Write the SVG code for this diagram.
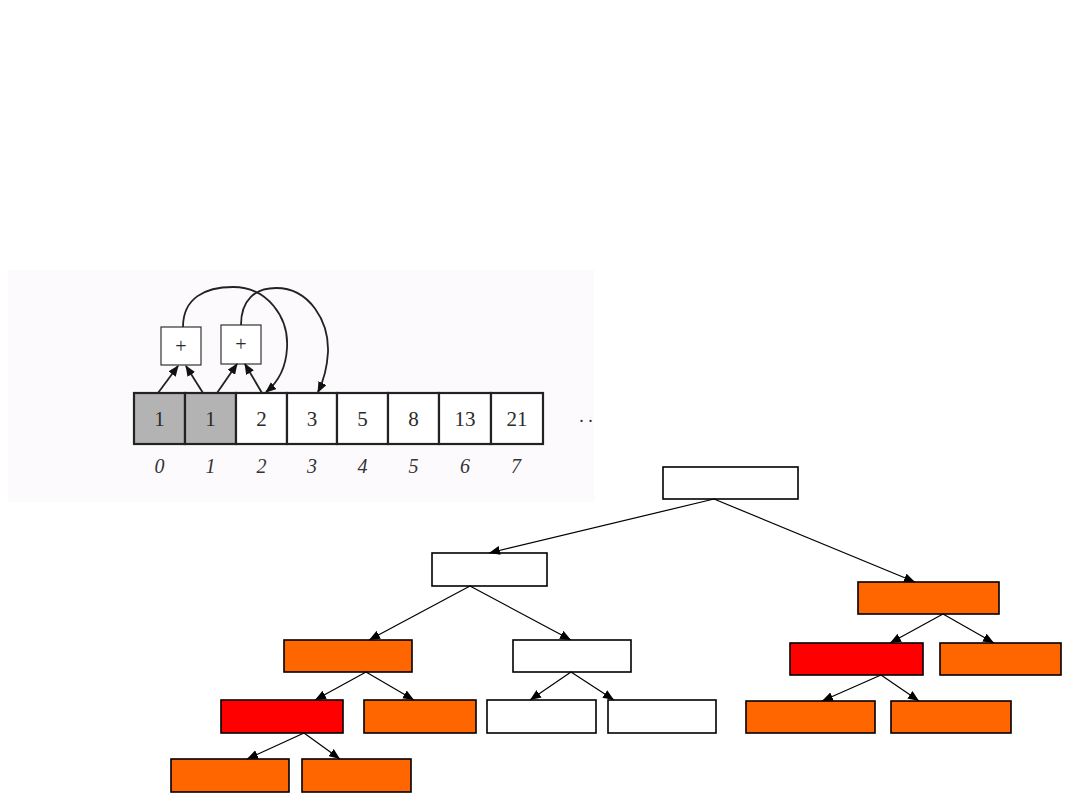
<svg xmlns="http://www.w3.org/2000/svg" width="1080" height="810" viewBox="0 0 1080 810">
<style>
.cell{stroke:#222;stroke-width:2.2}
.num{font-family:"Liberation Serif",serif;font-size:21px;fill:#2a2a2a;text-anchor:middle}
.idx{font-family:"Liberation Serif",serif;font-size:20px;font-style:italic;fill:#333;text-anchor:middle}
.plus{fill:#fff;stroke:#333;stroke-width:1.2}
.fa{fill:none;stroke:#222;stroke-width:1.8}
.node{stroke:#000;stroke-width:1.6}
.w{fill:#fff}
.o{fill:#ff6600}
.r{fill:#ff0000}
.edge{fill:none;stroke:#000;stroke-width:1.2}
</style>
<defs>
<marker id="ah" markerWidth="11" markerHeight="9" refX="11" refY="4.5" orient="auto" markerUnits="userSpaceOnUse">
<path d="M0,0 L11,4.5 L0,9 Z" fill="#000"/>
</marker>
<marker id="fh" markerWidth="11" markerHeight="9" refX="10" refY="4.5" orient="auto" markerUnits="userSpaceOnUse">
<path d="M0,0 L11,4.5 L0,9 Z" fill="#111"/>
</marker>
</defs>
<rect width="1080" height="810" fill="#fff"/>

<g id="fib-array">
<rect x="8" y="270" width="586" height="232" fill="#fdfafd"/>
<rect class="cell" x="134" y="393" width="51" height="51" fill="#b3b3b3"/>
<rect class="cell" x="185" y="393" width="51" height="51" fill="#b3b3b3"/>
<rect class="cell" x="236" y="393" width="51" height="51" fill="#fff"/>
<rect class="cell" x="287" y="393" width="50" height="51" fill="#fff"/>
<rect class="cell" x="337" y="393" width="51" height="51" fill="#fff"/>
<rect class="cell" x="388" y="393" width="51" height="51" fill="#fff"/>
<rect class="cell" x="439" y="393" width="52" height="51" fill="#fff"/>
<rect class="cell" x="491" y="393" width="52" height="51" fill="#fff"/>
<text class="num" x="159.5" y="426">1</text>
<text class="num" x="210.5" y="426">1</text>
<text class="num" x="261.5" y="426">2</text>
<text class="num" x="312" y="426">3</text>
<text class="num" x="362.5" y="426">5</text>
<text class="num" x="413.5" y="426">8</text>
<text class="num" x="465" y="426">13</text>
<text class="num" x="517" y="426">21</text>
<text class="idx" x="159.5" y="473">0</text>
<text class="idx" x="210.5" y="473">1</text>
<text class="idx" x="261.5" y="473">2</text>
<text class="idx" x="312" y="473">3</text>
<text class="idx" x="362.5" y="473">4</text>
<text class="idx" x="413.5" y="473">5</text>
<text class="idx" x="465" y="473">6</text>
<text class="idx" x="516" y="473">7</text>
<text class="num" x="586" y="422" style="font-size:18px">. .</text>
<rect class="plus" x="161" y="327" width="40" height="38"/>
<rect class="plus" x="221" y="325" width="40" height="39"/>
<text class="num" x="181" y="353" style="font-size:20px">+</text>
<text class="num" x="241" y="351" style="font-size:20px">+</text>
<path class="fa" d="M158,393 L178,366" marker-end="url(#fh)"/>
<path class="fa" d="M203,393 L186,366" marker-end="url(#fh)"/>
<path class="fa" d="M217,393 L237,364" marker-end="url(#fh)"/>
<path class="fa" d="M262,393 L245,364" marker-end="url(#fh)"/>
<path class="fa" d="M183,327 C183,298 205,287 233,287 C268,287 289,318 287,348 C286,368 277,383 266,392" marker-end="url(#fh)"/>
<path class="fa" d="M241,325 C241,300 255,288 276,288 C310,288 329,322 328,352 C327,370 323,382 318,392" marker-end="url(#fh)"/>
</g>

<g id="n-root"><rect class="node w" x="663" y="467" width="135" height="32"/></g>
<g id="n-l1a"><rect class="node w" x="432" y="553" width="115" height="33"/></g>
<g id="n-l1b"><rect class="node o" x="858" y="582" width="141" height="32"/></g>
<g id="n-l2a"><rect class="node o" x="284" y="640" width="128" height="32"/></g>
<g id="n-l2b"><rect class="node w" x="513" y="640" width="118" height="32"/></g>
<g id="n-l2c"><rect class="node r" x="790" y="643" width="133" height="32"/></g>
<g id="n-l2d"><rect class="node o" x="940" y="643" width="121" height="32"/></g>
<g id="n-l3a"><rect class="node r" x="221" y="700" width="122" height="33"/></g>
<g id="n-l3b"><rect class="node o" x="364" y="700" width="112" height="33"/></g>
<g id="n-l3c"><rect class="node w" x="487" y="700" width="109" height="33"/></g>
<g id="n-l3d"><rect class="node w" x="608" y="700" width="108" height="33"/></g>
<g id="n-l3e"><rect class="node o" x="746" y="701" width="129" height="32"/></g>
<g id="n-l3f"><rect class="node o" x="891" y="701" width="120" height="32"/></g>
<g id="n-l4a"><rect class="node o" x="171" y="759" width="118" height="33"/></g>
<g id="n-l4b"><rect class="node o" x="302" y="759" width="109" height="33"/></g>

<g id="connectors">
<path class="edge" d="M714,499 L489,553" marker-end="url(#ah)"/>
<path class="edge" d="M714,499 L915,582" marker-end="url(#ah)"/>
<path class="edge" d="M470,586 L369,640" marker-end="url(#ah)"/>
<path class="edge" d="M470,586 L571,640" marker-end="url(#ah)"/>
<path class="edge" d="M366,672 L315,700" marker-end="url(#ah)"/>
<path class="edge" d="M366,672 L414,700" marker-end="url(#ah)"/>
<path class="edge" d="M571,672 L530,700" marker-end="url(#ah)"/>
<path class="edge" d="M571,672 L614,700" marker-end="url(#ah)"/>
<path class="edge" d="M304,733 L247,759" marker-end="url(#ah)"/>
<path class="edge" d="M304,733 L340,759" marker-end="url(#ah)"/>
<path class="edge" d="M943,614 L890,643" marker-end="url(#ah)"/>
<path class="edge" d="M943,614 L994,643" marker-end="url(#ah)"/>
<path class="edge" d="M881,675 L822,701" marker-end="url(#ah)"/>
<path class="edge" d="M881,675 L919,701" marker-end="url(#ah)"/>
</g>
</svg>
